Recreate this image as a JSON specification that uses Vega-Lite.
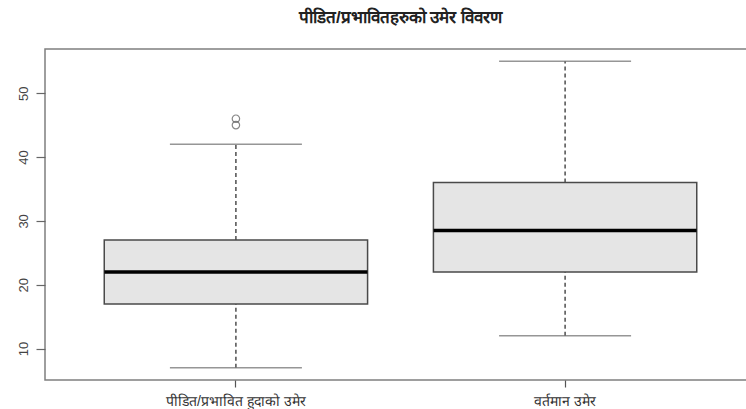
{
  "$schema": "https://vega.github.io/schema/vega-lite/v6.json",
  "autosize": {"type": "none"},
  "padding": {"left": 45, "top": 49, "right": 0, "bottom": 29},
  "width": 711,
  "height": 331,
  "background": "white",
  "title": {
    "text": "पीडित/प्रभावितहरुको उमेर विवरण",
    "anchor": "middle",
    "fontSize": 17,
    "fontWeight": "bold",
    "color": "#222222",
    "offset": 22
  },
  "config": {
    "view": {"stroke": "#7f7f7f", "strokeWidth": 1.5},
    "font": "Liberation Sans"
  },
  "datasets": {
    "boxes": [
      {"group": "पीडित/प्रभावित हुदाको उमेर", "lower": 7, "q1": 17, "median": 22, "q3": 27, "upper": 42},
      {"group": "वर्तमान उमेर", "lower": 12, "q1": 22, "median": 28.5, "q3": 36, "upper": 55}
    ],
    "outliers": [
      {"group": "पीडित/प्रभावित हुदाको उमेर", "value": 45},
      {"group": "पीडित/प्रभावित हुदाको उमेर", "value": 46}
    ]
  },
  "encoding": {
    "x": {
      "field": "group",
      "type": "nominal",
      "sort": null,
      "scale": {"paddingInner": 0, "paddingOuter": 0.08},
      "axis": {
        "title": null,
        "labelAngle": 0,
        "domain": false,
        "tickColor": "#555555",
        "tickSize": 7,
        "tickWidth": 1.2,
        "labelFontSize": 14,
        "labelColor": "#333333",
        "labelPadding": 7
      }
    }
  },
  "layer": [
    {
      "data": {"name": "boxes"},
      "mark": {"type": "rule", "strokeDash": [4, 3], "color": "#222222", "strokeWidth": 1.2},
      "encoding": {
        "y": {
          "field": "q3",
          "type": "quantitative",
          "scale": {"domain": [5.08, 56.92], "nice": false, "zero": false},
          "axis": {
            "title": null,
            "values": [10, 20, 30, 40, 50],
            "grid": false,
            "domain": false,
            "labelAngle": 270,
            "labelAlign": "center",
            "labelBaseline": "bottom",
            "labelPadding": 6,
            "tickSize": 9,
            "tickWidth": 1.2,
            "tickColor": "#666666",
            "labelFontSize": 13,
            "labelColor": "#444444"
          }
        },
        "y2": {"field": "upper"}
      }
    },
    {
      "data": {"name": "boxes"},
      "mark": {"type": "rule", "strokeDash": [4, 3], "color": "#222222", "strokeWidth": 1.2},
      "encoding": {
        "y": {"field": "lower", "type": "quantitative"},
        "y2": {"field": "q1"}
      }
    },
    {
      "data": {"name": "boxes"},
      "mark": {"type": "tick", "orient": "horizontal", "size": 132, "thickness": 1.5, "color": "#6a6a6a"},
      "encoding": {"y": {"field": "upper", "type": "quantitative"}}
    },
    {
      "data": {"name": "boxes"},
      "mark": {"type": "tick", "orient": "horizontal", "size": 132, "thickness": 1.5, "color": "#6a6a6a"},
      "encoding": {"y": {"field": "lower", "type": "quantitative"}}
    },
    {
      "data": {"name": "boxes"},
      "mark": {"type": "bar", "width": {"band": 0.8}, "fill": "#e5e5e5", "stroke": "#4a4a4a", "strokeWidth": 1.5},
      "encoding": {
        "y": {"field": "q1", "type": "quantitative"},
        "y2": {"field": "q3"}
      }
    },
    {
      "data": {"name": "boxes"},
      "mark": {"type": "tick", "orient": "horizontal", "size": 263, "thickness": 3.5, "color": "#000000", "opacity": 1},
      "encoding": {"y": {"field": "median", "type": "quantitative"}}
    },
    {
      "data": {"name": "outliers"},
      "mark": {"type": "point", "shape": "circle", "filled": false, "size": 55, "stroke": "#555555", "strokeWidth": 1.2},
      "encoding": {"y": {"field": "value", "type": "quantitative"}}
    }
  ]
}
